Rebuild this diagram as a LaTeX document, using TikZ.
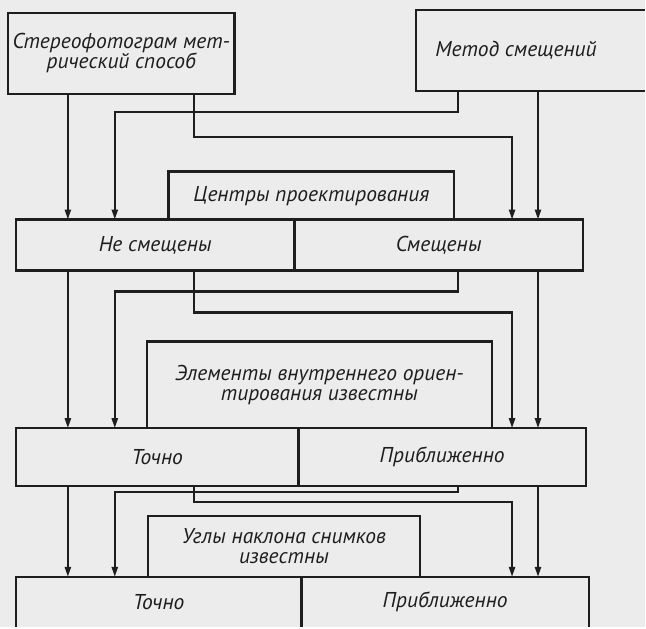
\documentclass[tikz,border=0pt]{standalone}
\usepackage{fontspec}
\setmainfont{PT Sans}
\usetikzlibrary{arrows.meta,positioning}
\definecolor{paper}{HTML}{ECECEC}
\definecolor{ink}{HTML}{1E1E1E}
\tikzset{
  box/.style={draw=ink,line width=2.4pt,align=center,inner sep=0pt,outer sep=0pt,
    font=\itshape\fontsize{21.5}{20}\selectfont,text=ink},
  open/.style={box,draw=none},
  rim/.style={line width=2.4pt,draw=ink},
  ar/.style={-{Triangle[length=10pt,width=6pt]},line width=2.2pt,draw=ink},
}
\begin{document}
\begin{tikzpicture}[x=1pt,y=-1pt]
\fill[paper] (0,0) rectangle (646,628);
% columns of the connectors
\coordinate (xa) at (68,0);
\coordinate (xb) at (115,0);
\coordinate (xl) at (194,0);
\coordinate (xr) at (459,0);
\coordinate (xc) at (513,0);
\coordinate (xd) at (539,0);
\coordinate (edge) at (646,0);
% methods
\node[box,minimum width=227pt,minimum height=81pt] (A) at (121.5,53.5) {Стереофотограм мет-\\рический способ};
\node[open,minimum width=200pt,minimum height=81pt] (B) at (517,50.5) {Метод смещений};
\draw[rim] (B.north west -| edge) -- (B.north west) -- (B.south west) -- (B.south west -| edge);
% projection centres
\node[box,minimum width=286pt,minimum height=48pt] (C) at (312,196) {Центры проектирования};
\node[box,minimum width=279pt,minimum height=51pt] (r1l) at (155.5,245.5) {Не смещены};
\node[box,minimum width=289pt,minimum height=51pt] (r1r) at (439.5,245.5) {Смещены};
% interior orientation
\node[box,minimum width=346pt,minimum height=87pt] (D) at (320,385.5) {Элементы внутреннего ориен-\\тирования известны};
\node[box,minimum width=283pt,minimum height=58pt] (r2l) at (157.5,458) {Точно};
\node[box,minimum width=288pt,minimum height=58pt] (r2r) at (443,458) {Приближенно};
% tilt angles
\node[box,minimum width=273pt,minimum height=61pt] (E) at (284.5,547.5) {Углы наклона снимков\\известны};
\node[open,minimum width=286pt,minimum height=50pt] (r3l) at (159,603) {Точно};
\node[open,minimum width=288pt,minimum height=50pt] (r3r) at (446,603) {Приближенно};
\draw[rim] (r3l.south west) -- (r3l.north west) -- (r3r.north east) -- (r3r.south east);
\draw[rim] (r3l.north east) -- (r3l.south east);
% methods -> row 1
\draw[ar] (A.south -| xa) -- (r1l.north -| xa);
\draw[ar] (A.south -| xl) -- ++(0,43) -| (r1r.north -| xc);
\draw[ar] (B.south -| xr) -- ++(0,21) -| (r1l.north -| xb);
\draw[ar] (B.south -| xd) -- (r1r.north -| xd);
% row 1 -> row 2
\draw[ar] (r1l.south -| xa) -- (r2l.north -| xa);
\draw[ar] (r1l.south -| xl) -- ++(0,42) -| (r2r.north -| xc);
\draw[ar] (r1r.south -| xr) -- ++(0,21) -| (r2l.north -| xb);
\draw[ar] (r1r.south -| xd) -- (r2r.north -| xd);
% row 2 -> row 3
\draw[ar] (r2l.south -| xa) -- (r3l.north -| xa);
\draw[ar] (r2l.south -| xl) -- ++(0,16) -| (r3r.north -| xc);
\draw[ar] (r2r.south -| xr) -- ++(0,6) -| (r3l.north -| xb);
\draw[ar] (r2r.south -| xd) -- (r3r.north -| xd);
\end{tikzpicture}
\end{document}
